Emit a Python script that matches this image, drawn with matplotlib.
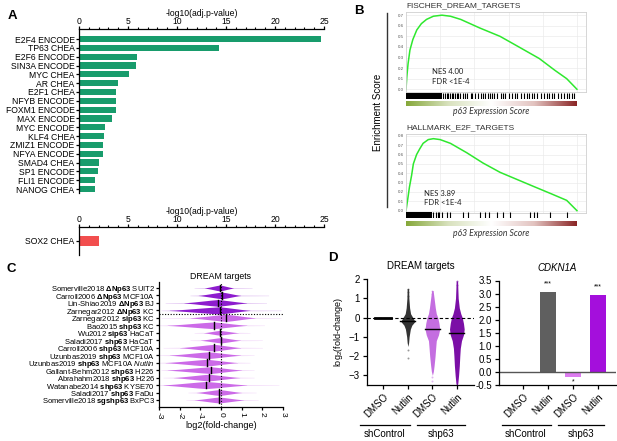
import numpy as np
import matplotlib.pyplot as plt

plt.rcParams['font.family'] = ['Liberation Sans', 'DejaVu Sans']
plt.rcParams['mathtext.fontset'] = 'custom'
plt.rcParams['mathtext.rm'] = 'Liberation Sans'
plt.rcParams['mathtext.bf'] = 'Liberation Sans:bold'
plt.rcParams['mathtext.it'] = 'Liberation Sans:italic'
plt.rcParams['axes.linewidth'] = 0.9

# ---------------- data ----------------
# A: enrichment of TF targets
tf_names = ['E2F4 ENCODE', 'TP63 CHEA', 'E2F6 ENCODE', 'SIN3A ENCODE', 'MYC CHEA', 'AR CHEA',
            'E2F1 CHEA', 'NFYB ENCODE', 'FOXM1 ENCODE', 'MAX ENCODE', 'MYC ENCODE', 'KLF4 CHEA',
            'ZMIZ1 ENCODE', 'NFYA ENCODE', 'SMAD4 CHEA', 'SP1 ENCODE', 'FLI1 ENCODE', 'NANOG CHEA']
tf_vals = [24.7, 14.3, 5.9, 5.8, 5.1, 4.0, 3.8, 3.8, 3.8, 3.4, 2.7, 2.6, 2.4, 2.4, 2.0, 1.95, 1.6, 1.6]
down_names = ['SOX2 CHEA']
down_vals = [2.0]

# B: GSEA running enrichment scores
dream_pos = [0.0, 0.005, 0.012, 0.023, 0.04, 0.063, 0.09, 0.12, 0.16, 0.21, 0.26, 0.32, 0.43,
             0.55, 0.66, 0.78, 0.87, 0.94, 1.0]
dream_es = [0.0, 0.12, 0.24, 0.37, 0.47, 0.56, 0.62, 0.66, 0.69, 0.70, 0.69, 0.66, 0.58,
            0.50, 0.40, 0.29, 0.18, 0.10, 0.0]
dream_dense = (0.0, 0.21)
dream_hits = [0.219, 0.229, 0.238, 0.248, 0.258, 0.268, 0.277, 0.287, 0.297, 0.307, 0.316, 0.336,
              0.346, 0.355, 0.379, 0.389, 0.406, 0.42, 0.436, 0.449, 0.465, 0.479, 0.492, 0.504,
              0.516, 0.533, 0.553, 0.57, 0.582, 0.602, 0.621, 0.639, 0.65, 0.67, 0.689, 0.709,
              0.719, 0.738, 0.75, 0.768, 0.787, 0.807, 0.826, 0.838, 0.855, 0.867, 0.887, 0.904,
              0.924, 0.941, 0.953, 0.969, 0.982]
e2f_pos = [0.0, 0.01, 0.02, 0.033, 0.043, 0.062, 0.08, 0.10, 0.13, 0.16, 0.20, 0.26, 0.355,
           0.45, 0.55, 0.745, 0.85, 0.94, 1.0]
e2f_es = [0.0, 0.12, 0.25, 0.38, 0.50, 0.60, 0.66, 0.72, 0.76, 0.77, 0.76, 0.72, 0.62,
          0.51, 0.41, 0.26, 0.18, 0.11, 0.0]
e2f_dense = (0.0, 0.15)
e2f_hits = [0.16, 0.176, 0.186, 0.195, 0.209, 0.238, 0.258, 0.336, 0.365, 0.434, 0.463, 0.488,
            0.531, 0.57, 0.609, 0.727, 0.746, 0.766, 0.84, 0.941]

# C: DREAM target fold-changes per dataset
c_study = ['Somerville2018', 'Carroll2006', 'Lin-Shiao2019', 'Zarnegar2012', 'Zarnegar2012',
           'Bao2015', 'Wu2012', 'Saladi2017', 'Carroll2006', 'Uzunbas2019', 'Uzunbas2019',
           'Gallant-Behm2012', 'Abrahahm2018', 'Watanabe2014', 'Saladi2017', 'Somerville2018']
c_pert = ['ΔNp63', 'ΔNp63', 'ΔNp63', 'ΔNp63', 'sip63', 'shp63', 'sip63', 'shp63', 'shp63',
          'shp63', 'shp63', 'shp63', 'shp63', 'shp63', 'shp63', 'sgshp63']
c_cell = ['SUIT2', 'MCF10A', 'BJ', 'KC', 'KC', 'KC', 'HaCaT', 'HaCaT', 'MCF10A', 'MCF10A',
          r'MCF10A $\mathit{Nutlin}$', 'H226', 'H226', 'KYSE70', 'FaDu', 'BxPC3']
c_med = [-0.05, 0.05, -0.15, -0.07, 0.25, -0.35, -0.07, 0.0, -0.33, -0.6, -0.68, -0.5, -0.6,
         -0.72, -0.08, -0.1]
c_lo = [-0.8, -1.1, -1.8, -2.5, -1.5, -2.6, -0.85, -1.0, -2.0, -2.5, -2.7, -2.6, -2.3, -2.8, -1.2, -1.3]
c_hi = [0.6, 0.95, 1.25, 1.4, 1.65, 1.25, 0.85, 0.95, 0.95, 0.95, 0.8, 1.0, 0.9, 1.25, 1.0, 1.1]
c_tlo = [-1.3, -1.5, -2.7, -2.9, -2.9, -3.0, -1.3, -1.5, -2.8, -3.0, -3.0, -2.9, -2.8, -3.0, -1.6, -1.7]
c_thi = [1.5, 2.3, 2.2, 2.9, 2.9, 2.1, 1.4, 2.0, 2.0, 1.6, 1.4, 1.6, 1.6, 2.8, 1.7, 1.8]
c_height = [0.4, 0.45, 0.45, 0.48, 0.48, 0.45, 0.32, 0.36, 0.45, 0.45, 0.45, 0.45, 0.45, 0.48, 0.4, 0.4]

# D left: DREAM targets distribution per condition
d_groups = ['shControl', 'shp63']
d_treat = ['DMSO', 'Nutlin', 'DMSO', 'Nutlin']
d_medians = [0.0, -0.18, -0.59, -0.8]
ctrl_nut_y = [1.5, 1.0, 0.5, 0.2, 0.0, -0.2, -0.4, -0.6, -1.0, -1.3, -1.5]
ctrl_nut_w = [0.03, 0.04, 0.07, 0.11, 0.2, 0.29, 0.16, 0.1, 0.05, 0.03, 0.0]
p63_dmso_y = [1.4, 1.0, 0.5, 0.2, 0.0, -0.3, -0.6, -0.9, -1.2, -1.5, -2.0, -2.5, -2.8, -3.0]
p63_dmso_w = [0.03, 0.07, 0.12, 0.16, 0.22, 0.27, 0.3, 0.25, 0.16, 0.14, 0.11, 0.07, 0.04, 0.0]
p63_nut_y = [1.9, 1.5, 1.0, 0.5, 0.2, 0.0, -0.3, -0.6, -0.9, -1.2, -1.6, -2.0, -2.5, -3.0, -3.4, -3.5]
p63_nut_w = [0.03, 0.04, 0.055, 0.1, 0.16, 0.22, 0.27, 0.3, 0.27, 0.19, 0.14, 0.12, 0.1, 0.07, 0.04, 0.02]
ctrl_nut_dots = [1.5, 1.3, 1.1, -1.7, -2.1]
p63_dmso_dots = [1.4, 1.2, -3.1, -3.3]
p63_nut_dots = [1.9, 1.7, -3.5]

# D right: CDKN1A
cdkn_vals = [0.0, 3.05, -0.2, 2.95]
cdkn_stars = ['', '***', '*', '***']

# ---------------- figure ----------------
W, H = 617, 441
fig = plt.figure(figsize=(W / 100, H / 100), dpi=100)


def add_ax(l, t, r, b):
    return fig.add_axes([l / W, 1 - b / H, (r - l) / W, (b - t) / H])


def ftext(x, y, s, **kw):
    fig.text(x / W, 1 - y / H, s, **kw)


def fseg(x0, y0, x1, y1, color='black', lw=0.9):
    fig.add_artist(plt.Line2D([x0 / W, x1 / W], [1 - y0 / H, 1 - y1 / H], color=color, lw=lw))


# ----- panel A -----
green = '#189c6c'


def style_a(ax, names):
    ax.set_xlim(0, 25)
    ax.set_yticks(range(len(names)))
    ax.set_yticklabels(names, fontsize=6.2)
    ax.xaxis.tick_top()
    ax.xaxis.set_label_position('top')
    ax.set_xticks(range(0, 26, 5))
    ax.set_xticks(range(0, 26), minor=True)
    ax.tick_params(axis='x', labelsize=6.2, length=2.2, width=0.9, pad=0)
    ax.tick_params(axis='x', which='minor', length=1.2, width=0.8)
    ax.tick_params(axis='y', length=2.2, width=0.9, pad=1)
    ax.set_xlabel('-log10(adj.p-value)', fontsize=6.2, labelpad=0.5)
    ax.spines['bottom'].set_visible(False)
    ax.spines['right'].set_visible(False)


axA = add_ax(79, 29, 324, 193)
axA.barh(range(len(tf_vals)), tf_vals, height=0.7, color=green)
axA.set_ylim(len(tf_vals) - 0.55, -1.14)
style_a(axA, tf_names)

axA2 = add_ax(79, 227, 324, 255)
axA2.barh(range(len(down_vals)), down_vals, height=1.25, color='#f24e4e')
axA2.set_ylim(1.6, -1.6)
style_a(axA2, down_names)

ftext(8, 16, 'A', fontsize=9.5, fontweight='bold', va='center')

# ----- panel B -----
ftext(354, 11, 'B', fontsize=9.5, fontweight='bold', va='center')
fseg(387, 13, 387, 207, color='#333333', lw=1.0)
ftext(378, 112, 'Enrichment Score', fontsize=7, rotation=90, ha='center', va='center')

gsea = [
    (dream_pos, dream_es, dream_dense, dream_hits, 'FISCHER_DREAM_TARGETS', 'NES 4.00',
     (12, 92, 93, 99, 101, 106.5, 112), (-0.026, 0.73), 8, (432, 72)),
    (e2f_pos, e2f_es, e2f_dense, e2f_hits, 'HALLMARK_E2F_TARGETS', 'NES 3.89',
     (134, 212.5, 212.5, 218.5, 220.5, 226, 233), (-0.02, 0.82), 9, (424, 193)),
]
grad_cmap = plt.matplotlib.colors.LinearSegmentedColormap.from_list(
    'p63', ['#86a83a', '#d9e2bf', '#ffffff', '#e2c3c0', '#8a2525'])
for pos, es, dense, hits, title, nes, ys, ylim, nt, nes_xy in gsea:
    top, bot, h0, h1, g0, g1, ly = ys
    ax = add_ax(406, top, 586, bot)
    ax.plot(pos, es, color='#2ee82e', lw=1.1)
    ax.set_xlim(0, 1.053)
    ax.set_ylim(*ylim)
    ax.set_yticks([k / 10 for k in range(nt)])
    ax.set_yticklabels(['%.1f' % (k / 10) for k in range(nt)])
    ax.set_xticks([0.2, 0.4, 0.6, 0.8, 1.0])
    ax.set_xticklabels([])
    ax.tick_params(length=0, labelsize=3.2, labelcolor='#555555', pad=1.5)
    ax.grid(True, color='#ebebeb', lw=0.5)
    for s in ax.spines.values():
        s.set_color('#d0d0d0')
        s.set_linewidth(0.6)
    ftext(406, top - 6, title, fontsize=6, color='#333333', va='center')
    ftext(nes_xy[0], nes_xy[1], nes, fontsize=5.5, family='Lato', color='#222222', va='center')
    ftext(nes_xy[0], nes_xy[1] + 10, 'FDR <1E-4', fontsize=5.5, family='Lato', color='#222222',
          va='center')

    axh = add_ax(406, h0, 586, h1)
    axh.set_xlim(0, 1.053)
    axh.set_ylim(0, 1)
    axh.axvspan(dense[0], dense[1], color='black', lw=0)
    axh.vlines(hits, 0, 1, color='black', lw=0.8)
    axh.axis('off')

    axg = add_ax(406, g0, 586, g1)
    axg.imshow(np.linspace(0, 1, 256)[None, :], cmap=grad_cmap, aspect='auto',
               extent=[0, 1, 0, 1])
    axg.set_xlim(0, 1.053)
    axg.axis('off')
    ftext(491, ly, 'p63 Expression Score', fontsize=6.2, family='Lato', style='italic',
          color='#333333', ha='center', va='center')

# ----- panel C -----
ftext(6, 269, 'C', fontsize=9.5, fontweight='bold', va='center')
axC = add_ax(159, 282, 283, 407)
dark_violet = '#8d1cce'
light_violet = '#cc6ae8'
prof_f = [0.0, 0.12, 0.3, 0.55, 0.8, 1.0]
prof_w = [0.05, 0.12, 0.28, 0.55, 0.82, 1.0]
n = len(c_med)
for i in range(n):
    col = dark_violet if c_pert[i] == 'ΔNp63' else light_violet
    m = c_med[i]
    xl = [c_lo[i] + f * (m - c_lo[i]) for f in prof_f]
    xr = [m + (1 - f) * (c_hi[i] - m) for f in prof_f[::-1]]
    xs = np.array(xl + xr[1:])
    ws = np.array(prof_w + prof_w[::-1][1:]) * c_height[i]
    axC.fill_between(xs, i - ws, i + ws, color=col, lw=0)
    wt = np.array([0.03, 0.06])
    axC.fill_between([c_tlo[i], c_lo[i]], i - wt, i + wt, color=col, alpha=0.25, lw=0)
    axC.fill_between([c_hi[i], c_thi[i]], i - wt[::-1], i + wt[::-1], color=col, alpha=0.25, lw=0)
    axC.plot([m, m], [i - 0.45, i + 0.45], color='black', lw=1.0)
axC.axvline(0, color='black', lw=0.8, ls=(0, (1, 1.5)))
axC.plot([-3, 3.0], [3.5, 3.5], color='black', lw=0.8, ls=(0, (1, 1.5)), clip_on=False)
axC.set_xlim(-3, 3)
axC.set_ylim(n - 0.06, -0.8)
axC.set_yticks(range(n))
axC.set_yticklabels([r'%s $\mathbf{%s}$ %s' % (a, b, c) for a, b, c in zip(c_study, c_pert, c_cell)],
                    fontsize=5.5)
axC.set_xticks(range(-3, 4))
axC.set_xticklabels([str(v) for v in range(-3, 4)], rotation=-90)
axC.tick_params(axis='x', labelsize=6, length=2.2, width=0.9, pad=1.5)
axC.tick_params(axis='y', length=2, width=0.9, pad=1)
axC.set_xlabel('log2(fold-change)', fontsize=6.6, labelpad=1)
axC.set_title('DREAM targets', fontsize=6.3, pad=2)
axC.spines['top'].set_visible(False)
axC.spines['right'].set_visible(False)

# ----- panel D left -----
ftext(328, 258, 'D', fontsize=9.5, fontweight='bold', va='center')
axD = add_ax(367, 279, 474, 385)
d_cols = ['#222222', '#333333', '#c46ee0', '#7b0fa6']
axD.plot([-0.33, 0.33], [0, 0], color='black', lw=2)
profiles = [(ctrl_nut_y, ctrl_nut_w, ctrl_nut_dots), (p63_dmso_y, p63_dmso_w, p63_dmso_dots),
            (p63_nut_y, p63_nut_w, p63_nut_dots)]
for k, (yy, ww, dots) in enumerate(profiles, start=1):
    ww = np.array(ww)
    axD.fill_betweenx(yy, k - ww, k + ww, color=d_cols[k], lw=0)
    axD.scatter([k] * len(dots), dots, s=2, color=d_cols[k], alpha=0.5, lw=0)
for k in range(1, 4):
    axD.plot([k - 0.31, k + 0.31], [d_medians[k]] * 2, color='black', lw=1.0)
axD.axhline(0, color='black', lw=0.8, ls=(0, (3, 2)))
axD.set_xlim(-0.67, 3.7)
axD.set_ylim(-3.5, 2)
axD.set_yticks([2, 1, 0, -1, -2, -3])
axD.set_xticks(range(4))
axD.set_xticklabels(d_treat, rotation=45, ha='right', rotation_mode='anchor')
axD.tick_params(axis='both', labelsize=7, length=3, width=0.9, pad=2)
axD.set_ylabel('log$_2$(fold-change)', fontsize=6.5, labelpad=3)
axD.set_title('DREAM targets', fontsize=7, pad=7)
axD.spines['top'].set_visible(False)
axD.spines['right'].set_visible(False)

# ----- panel D right -----
axE = add_ax(499, 280.5, 616, 385)
bar_cols = ['#666666', '#5f5f5f', '#dd7cf0', '#a40fdc']
axE.bar(range(4), cdkn_vals, width=0.66, color=bar_cols)
axE.axhline(0, color='#555555', lw=1)
for k, (v, s) in enumerate(zip(cdkn_vals, cdkn_stars)):
    if s:
        yy = v + 0.32 if v > 0 else v - 0.2
        axE.text(k, yy, s, fontsize=5, ha='center', va='center')
axE.set_xlim(-0.95, 3.72)
axE.set_ylim(-0.5, 3.5)
axE.set_yticks([3.5, 3.0, 2.5, 2.0, 1.5, 1.0, 0.5, 0.0, -0.5])
axE.set_yticklabels(['%.1f' % v for v in [3.5, 3.0, 2.5, 2.0, 1.5, 1.0, 0.5, 0.0, -0.5]])
axE.set_xticks(range(4))
axE.set_xticklabels(d_treat, rotation=45, ha='right', rotation_mode='anchor')
axE.tick_params(axis='both', labelsize=7, length=3, width=0.9, pad=2)
axE.set_title('CDKN1A', fontsize=7, style='italic', pad=7)
axE.spines['top'].set_visible(False)
axE.spines['right'].set_visible(False)

# group brackets
fseg(360, 425, 410, 425)
ftext(385, 434, d_groups[0], fontsize=7, ha='center', va='center')
fseg(417, 425, 465, 425)
ftext(441, 434, d_groups[1], fontsize=7, ha='center', va='center')
fseg(502, 425, 551, 425)
ftext(526, 434, d_groups[0], fontsize=7, ha='center', va='center')
fseg(558, 425, 604, 425)
ftext(581, 434, d_groups[1], fontsize=7, ha='center', va='center')

fig.savefig('out.png', dpi=100)
